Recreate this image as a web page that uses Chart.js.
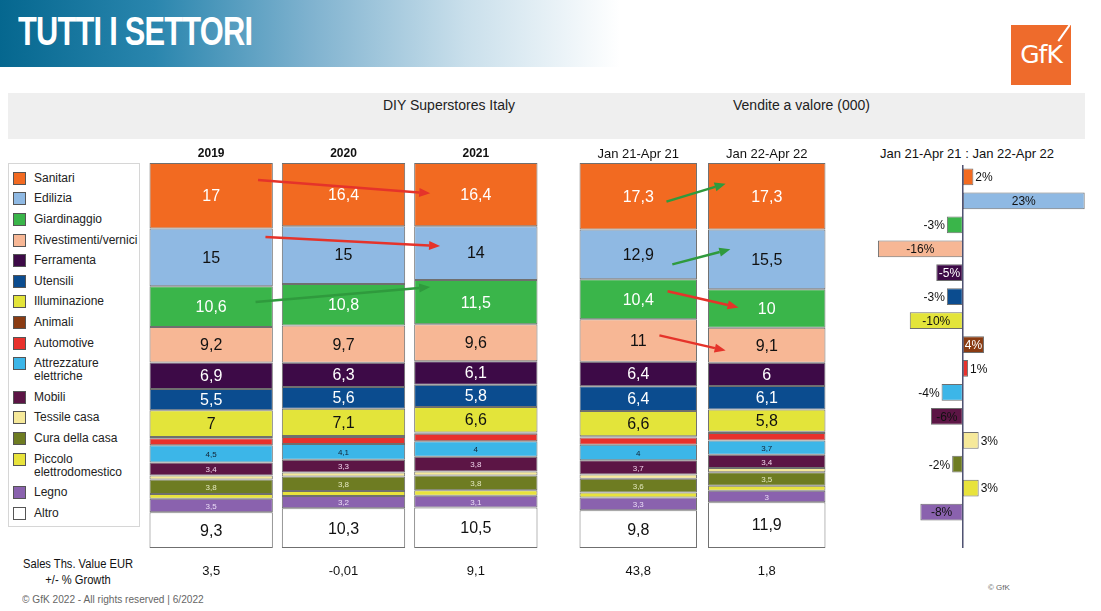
<!DOCTYPE html>
<html>
<head>
<meta charset="utf-8">
<script src="https://cdn.jsdelivr.net/npm/chart.js@4.4.1/dist/chart.umd.min.js"></script>
<style>
  body { margin: 0; width: 1101px; height: 611px; background: #fff; position: relative; overflow: hidden;
         font-family: 'Liberation Sans Narrow', 'Liberation Sans', Arial, sans-serif; }
  .abs { position: absolute; }
  #banner { left: 0; top: 0; width: 620px; height: 67px;
            background: linear-gradient(to right, #05678f 0%, #2a86ae 25%, #7fb2cf 50%, #c9dfeb 75%, #ffffff 100%); }
  #title { left: 18px; top: 9px; color: #fff; font-weight: bold; font-size: 40px; letter-spacing: -1px; white-space: nowrap;
           transform: scaleX(0.77); transform-origin: left top; }
  #logo { left: 1011px; top: 25px; width: 60px; height: 60px; background: #ee6b2c; color: #fff;
          font-family: 'DejaVu Sans', sans-serif; font-size: 25px; line-height: 60px; text-align: center; letter-spacing: -1px; }
  #logo i { position: absolute; right: 6px; top: -2px; width: 2px; height: 20px; background: #fff; transform: rotate(35deg); }
  #band { left: 8px; top: 93px; width: 1077px; height: 46px; background: #efefef; }
  .hdr { top: 97px; font-family: 'Liberation Sans', Arial, sans-serif; font-size: 14px; color: #222; }
  #legend { left: 8px; top: 163px; width: 130px; height: 358px; border: 1px solid #d6d6d6; padding-top: 4px;
            font-family: 'Liberation Sans', Arial, sans-serif; font-size: 12px; color: #222; }
  .item { display: flex; align-items: flex-start; line-height: 13px; padding: 3.8px 0 3.8px 4px; }
  .sw { width: 11px; height: 11px; border: 1px solid #555; margin-right: 8px; flex: none; }
  .item span { max-width: 108px; }
  #rtitle { left: 867px; top: 146px; width: 200px; text-align: center; font-family: 'Liberation Sans', Arial, sans-serif; font-size: 13px; color: #111; }
  #sales { left: 14px; top: 556px; width: 128px; text-align: center; font-size: 12px; line-height: 16px; color: #111; }
  #sales div { transform: scaleX(0.93); }
  #foot { left: 22px; top: 593px; font-size: 11px; color: #666; transform: scaleX(0.92); transform-origin: left top; }
  #gfk2 { left: 988px; top: 583px; font-size: 8px; color: #666; }
</style>
</head>
<body>
<div id="banner" class="abs"></div>
<div id="title" class="abs">TUTTI I SETTORI</div>
<div id="logo" class="abs">GfK<i></i></div>
<div id="band" class="abs"></div>
<div class="abs hdr" style="left:383px">DIY Superstores Italy</div>
<div class="abs hdr" style="left:733px">Vendite a valore (000)</div>
<div id="legend" class="abs"></div>
<div id="rtitle" class="abs">Jan 21-Apr 21 : Jan 22-Apr 22</div>
<div id="sales" class="abs"><div>Sales Ths. Value EUR</div><div>+/- % Growth</div></div>
<div id="foot" class="abs">© GfK 2022 - All rights reserved | 6/2022</div>
<div id="gfk2" class="abs">© GfK</div>

<canvas id="years" class="abs" style="left:145px;top:139px" width="397" height="449"></canvas>
<canvas id="periods" class="abs" style="left:574px;top:139px" width="257" height="449"></canvas>
<canvas id="growth" class="abs" style="left:860px;top:140px" width="235" height="410"></canvas>

<script>
// sectors, top to bottom of every column
const categories = ['Sanitari', 'Edilizia', 'Giardinaggio', 'Rivestimenti/vernici', 'Ferramenta', 'Utensili',
  'Illuminazione', 'Animali', 'Automotive', 'Attrezzature elettriche', 'Mobili', 'Tessile casa',
  'Cura della casa', 'Piccolo elettrodomestico', 'Legno', 'Altro'];

const yearLabels = ['2019', '2020', '2021'];
const periodLabels = ['Jan 21-Apr 21', 'Jan 22-Apr 22'];

// value share % per sector (thin unlabeled bands estimated)
const share2019 = [17, 15, 10.6, 9.2, 6.9, 5.5, 7, 0.3, 1.8, 4.5, 3.4, 1.0, 3.8, 1.2, 3.5, 9.3];
const share2020 = [16.4, 15, 10.8, 9.7, 6.3, 5.6, 7.1, 0.3, 1.8, 4.1, 3.3, 1.0, 3.8, 1.3, 3.2, 10.3];
const share2021 = [16.4, 14, 11.5, 9.6, 6.1, 5.8, 6.6, 0.3, 2.0, 4, 3.8, 1.1, 3.8, 1.4, 3.1, 10.5];
const shareJanApr21 = [17.3, 12.9, 10.4, 11, 6.4, 6.4, 6.6, 0.3, 1.9, 4, 3.7, 1.1, 3.6, 1.3, 3.3, 9.8];
const shareJanApr22 = [17.3, 15.5, 10, 9.1, 6, 6.1, 5.8, 0.3, 2.0, 3.7, 3.4, 1.1, 3.5, 1.3, 3, 11.9];

// sales growth % per column
const salesGrowthYears = [3.5, -0.01, 9.1];
const salesGrowthPeriods = [43.8, 1.8];

// % change Jan 21-Apr 21 : Jan 22-Apr 22
const sectorGrowth = [2, 23, -3, -16, -5, -3, -10, 4, 1, -4, -6, 3, -2, 3, -8, null];

const colors = ['#f26a21', '#8fb9e3', '#3ab54a', '#f7b795', '#3d0a47', '#0b4c8f', '#e3e43a', '#8a3b12',
  '#e8312c', '#3cb6e8', '#5c1545', '#f6e99a', '#6e7c22', '#e8e33c', '#8a62ae', '#ffffff'];
const textColors = ['#fff', '#111', '#fff', '#111', '#fff', '#fff', '#111', '#fff',
  '#fff', '#123', '#efd3ea', '#111', '#e4e8c0', '#111', '#eadcf6', '#111'];
const insideLabels = ['Edilizia', 'Rivestimenti/vernici', 'Ferramenta', 'Illuminazione', 'Animali', 'Mobili', 'Legno'];

const RED = '#e5332a', GREEN = '#2f9a3d';
const fmt = v => String(v).replace('.', ',');

// legend
const legend = document.getElementById('legend');
categories.forEach((c, i) => {
  const row = document.createElement('div');
  row.className = 'item';
  row.innerHTML = `<div class="sw" style="background:${colors[i]}"></div><span>${c}</span>`;
  legend.appendChild(row);
});

function drawArrow(ctx, x1, y1, x2, y2, color) {
  const a = Math.atan2(y2 - y1, x2 - x1), len = 11, w = 4.5;
  ctx.strokeStyle = color; ctx.fillStyle = color; ctx.lineWidth = 2.5;
  ctx.beginPath();
  ctx.moveTo(x1, y1);
  ctx.lineTo(x2 - Math.cos(a) * len, y2 - Math.sin(a) * len);
  ctx.stroke();
  ctx.beginPath();
  ctx.moveTo(x2, y2);
  ctx.lineTo(x2 - Math.cos(a) * len - Math.sin(a) * w, y2 - Math.sin(a) * len + Math.cos(a) * w);
  ctx.lineTo(x2 - Math.cos(a) * len + Math.sin(a) * w, y2 - Math.sin(a) * len - Math.cos(a) * w);
  ctx.closePath();
  ctx.fill();
}

const stackLabels = {
  id: 'stackLabels',
  afterDatasetsDraw(chart, args, opts) {
    const ctx = chart.ctx;
    ctx.save();
    ctx.textAlign = 'center';
    ctx.textBaseline = 'middle';
    chart.data.datasets.forEach((ds, d) => {
      chart.getDatasetMeta(d).data.forEach((bar, i) => {
        const v = ds.data[i];
        if (v < 2.5) return;
        ctx.fillStyle = textColors[d];
        ctx.font = v >= 5 ? '16px "Liberation Sans", Arial' : '8px "Liberation Sans", Arial';
        ctx.fillText(fmt(v), bar.x, (bar.y + bar.base) / 2 + 1);
      });
    });

    // column headers and growth row
    const xs = chart.scales.x;
    chart.data.labels.forEach((l, i) => {
      const x = xs.getPixelForValue(i);
      ctx.fillStyle = '#111';
      ctx.font = (opts.bold ? 'bold 12px' : '13px') + ' "Liberation Sans", Arial';
      ctx.fillText(l, x, chart.chartArea.top - 9);
      ctx.font = '13px "Liberation Sans Narrow", "Liberation Sans", Arial';
      ctx.fillText(fmt(opts.growth[i]), x, chart.chartArea.bottom + 23);
    });

    // arrows between segments
    (opts.arrows || []).forEach(a => {
      const meta = chart.getDatasetMeta(a.ds);
      const p = (bar, fx, fy) => {
        const top = Math.min(bar.y, bar.base), h = Math.abs(bar.base - bar.y);
        return [bar.x - bar.width / 2 + fx * bar.width, top + fy * h];
      };
      const [x1, y1] = p(meta.data[a.from], a.fx, a.fy);
      const [x2, y2] = p(meta.data[a.to], a.tx, a.ty);
      drawArrow(ctx, x1, y1, x2, y2, a.color);
    });
    ctx.restore();
  }
};

function stackedChart(id, labels, columns, barPct, options) {
  return new Chart(document.getElementById(id), {
    type: 'bar',
    data: {
      labels,
      datasets: categories.map((c, k) => ({
        label: c,
        data: columns.map(col => col[k]),
        backgroundColor: colors[k],
        borderColor: '#6f6f6f',
        borderWidth: 1,
        borderSkipped: false,
        barPercentage: barPct,
        categoryPercentage: 1,
      })),
    },
    options: {
      responsive: false,
      animation: false,
      layout: { padding: { top: 24, bottom: 40, left: 0, right: 0 } },
      scales: {
        x: { stacked: true, display: false },
        y: { stacked: true, display: false, min: 0, max: 100, reverse: true },
      },
      plugins: { legend: { display: false }, tooltip: { enabled: false }, stackLabels: options },
    },
    plugins: [stackLabels],
  });
}

stackedChart('years', yearLabels, [share2019, share2020, share2021], 0.932, {
  bold: true,
  growth: salesGrowthYears,
  arrows: [
    { ds: 0, from: 0, to: 2, fx: 0.88, fy: 0.26, tx: 0.13, ty: 0.48, color: RED },
    { ds: 1, from: 0, to: 2, fx: 0.94, fy: 0.15, tx: 0.21, ty: 0.37, color: RED },
    { ds: 2, from: 0, to: 2, fx: 0.86, fy: 0.39, tx: 0.13, ty: 0.16, color: GREEN },
  ],
});

stackedChart('periods', periodLabels, [shareJanApr21, shareJanApr22], 0.914, {
  bold: false,
  growth: salesGrowthPeriods,
  arrows: [
    { ds: 0, from: 0, to: 1, fx: 0.74, fy: 0.58, tx: 0.15, ty: 0.31, color: GREEN },
    { ds: 1, from: 0, to: 1, fx: 0.79, fy: 0.70, tx: 0.19, ty: 0.33, color: GREEN },
    { ds: 2, from: 0, to: 1, fx: 0.75, fy: 0.30, tx: 0.26, ty: 0.47, color: RED },
    { ds: 3, from: 0, to: 1, fx: 0.68, fy: 0.38, tx: 0.15, ty: 0.65, color: RED },
  ],
});

const growthLabels = {
  id: 'growthLabels',
  afterDatasetsDraw(chart) {
    const ctx = chart.ctx;
    const x0 = chart.scales.x.getPixelForValue(0);
    ctx.save();
    ctx.strokeStyle = '#4d5070';
    ctx.lineWidth = 1.5;
    ctx.beginPath();
    ctx.moveTo(x0, chart.chartArea.top);
    ctx.lineTo(x0, chart.chartArea.bottom);
    ctx.stroke();

    ctx.font = '12px "Liberation Sans", Arial';
    ctx.textBaseline = 'middle';
    chart.getDatasetMeta(0).data.forEach((bar, i) => {
      const v = sectorGrowth[i];
      if (v === null) return;
      const t = v + '%';
      if (insideLabels.includes(categories[i])) {
        ctx.textAlign = 'center';
        ctx.fillStyle = textColors[i] === '#fff' ? '#fff' : '#111';
        ctx.fillText(t, (bar.x + bar.base) / 2, bar.y + 1);
      } else {
        ctx.fillStyle = '#111';
        ctx.textAlign = v >= 0 ? 'left' : 'right';
        ctx.fillText(t, bar.x + (v >= 0 ? 2 : -2), bar.y + 1);
      }
    });
    ctx.restore();
  }
};

new Chart(document.getElementById('growth'), {
  type: 'bar',
  data: {
    labels: categories,
    datasets: [{
      data: sectorGrowth,
      backgroundColor: colors,
      borderColor: '#6f6f6f',
      borderWidth: 1,
      borderSkipped: false,
      barPercentage: 0.7,
      categoryPercentage: 1,
    }],
  },
  options: {
    indexAxis: 'y',
    responsive: false,
    animation: false,
    layout: { padding: { top: 25, bottom: 2, left: 10, right: 5 } },
    scales: {
      x: { display: false, min: -17.5, max: 24 },
      y: { display: false },
    },
    plugins: { legend: { display: false }, tooltip: { enabled: false } },
  },
  plugins: [growthLabels],
});
</script>
</body>
</html>
